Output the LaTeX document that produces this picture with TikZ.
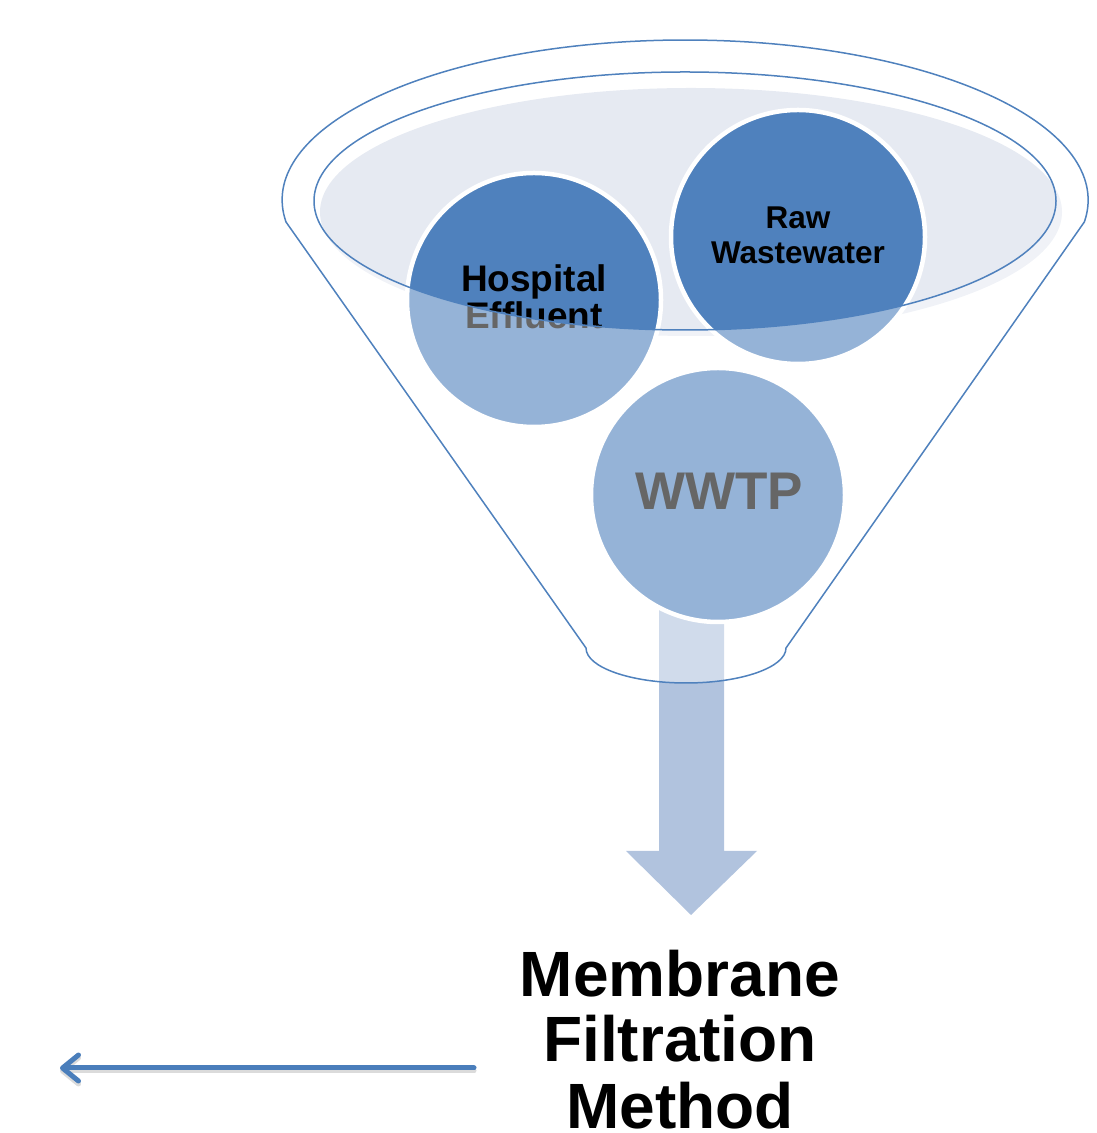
\documentclass[tikz,border=0pt]{standalone}
\usepackage{fontspec}
\setmainfont{Liberation Sans}
\usetikzlibrary{arrows.meta}
\definecolor{dkblue}{HTML}{4F81BD}
\definecolor{fillell}{HTML}{E6EAF2}
\definecolor{arrowc}{HTML}{B1C3DE}
\definecolor{linec}{HTML}{4A7EBB}
\begin{document}
\begin{tikzpicture}[x=1pt,y=1pt,
  ball/.style={circle, minimum size=254pt, inner sep=0pt, fill=dkblue, draw=white, line width=4.5pt},
  ltxt/.style={anchor=base, inner sep=0pt, font=\fontsize{37}{40}\selectfont\bfseries},
  rtxt/.style={anchor=base, inner sep=0pt, font=\fontsize{31.5}{34}\selectfont\bfseries},
  wtxt/.style={anchor=base, inner sep=0pt, font=\fontsize{53}{56}\selectfont\bfseries},
  mtxt/.style={anchor=base, inner sep=0pt, font=\fontsize{64}{66}\selectfont\bfseries},
  outl/.style={draw=dkblue, line width=1.5pt}]
\useasboundingbox (0,0) rectangle (1096,1133);
% liquid surface
\fill[fillell] (691,921) ellipse[x radius=371, y radius=124];
% big down arrow
\fill[arrowc] (659,540) -- (724,540) -- (724,282) -- (757,282) -- (691,218) -- (626,282) -- (659,282) -- cycle;
% balls
\node[ball] (hosp) at (534,833) {};
\node[ball] (raw) at (798,896) {};
\node[ball] (wwtp) at (718,638) {};
\node[ltxt] (h1) at (534,841) {Hospital};
\node[ltxt] (h2) at (534,804) {Effluent};
\node[rtxt] (r1) at (798,904) {Raw};
\node[rtxt] (r2) at (798,869) {Wastewater};
\node[wtxt] (w1) at (719,623) {WWTP};
% translucent front of funnel
\fill[white, fill opacity=0.4, even odd rule]
  (286,911) arc[start angle=187.9, end angle=-7.9, x radius=403, y radius=160]
  -- (786,485) arc[start angle=0, end angle=-180, x radius=100, y radius=35] -- cycle
  (685,932) ellipse[x radius=371, y radius=129];
% outlines
\draw[outl, line join=round]
  (286,911) arc[start angle=187.9, end angle=-7.9, x radius=403, y radius=160]
  -- (786,485) arc[start angle=0, end angle=-180, x radius=100, y radius=35] -- cycle;
\draw[outl] (685,932) ellipse[x radius=371, y radius=129];
% result text
\node[mtxt] (m1) at (680,136) {Membrane};
\node[mtxt] (m2) at (680,71) {Filtration};
\node[mtxt] (m3) at (680,5) {Method};
% left arrow
\coordinate (la) at (474,65);
\coordinate (lb) at (60,65);
\draw[black!40, opacity=0.35, line width=5pt, line cap=round, -{Straight Barb[length=16pt, width=26pt, line cap=round, line join=round]}] ([yshift=-3pt]la) -- ([yshift=-3pt]lb);
\draw[linec, line width=5pt, line cap=round, -{Straight Barb[length=16pt, width=26pt, line cap=round, line join=round]}] (la) -- (lb);
\end{tikzpicture}
\end{document}
